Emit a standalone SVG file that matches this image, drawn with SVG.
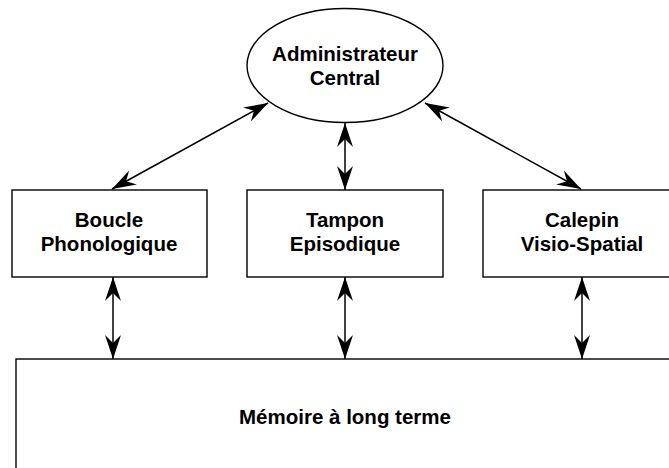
<svg xmlns="http://www.w3.org/2000/svg" width="669" height="468" viewBox="0 0 669 468">
  <style>
    .shape { fill: #ffffff; stroke: #000000; stroke-width: 1.4; }
    .label { font-family: "Liberation Sans", Arial, Helvetica, sans-serif; font-weight: bold; font-size: 20.5px; fill: #000000; text-anchor: middle; }
    .conn { fill: none; stroke: #000000; stroke-width: 1.5; marker-start: url(#arr); marker-end: url(#arr); }
  </style>
  <defs>
    <marker id="arr" viewBox="-25 -9 27 18" refX="0" refY="0" markerWidth="27" markerHeight="18" markerUnits="userSpaceOnUse" orient="auto-start-reverse">
      <path d="M0,0 L-24,-8 L-16,0 L-24,8 Z" fill="#000000"/>
    </marker>
  </defs>
  <rect width="669" height="468" fill="#ffffff"/>

  <g id="memoire-long-terme">
    <rect class="shape" x="16" y="359" width="670" height="130"/>
    <text class="label" x="345" y="424">Mémoire à long terme</text>
  </g>

  <g id="administrateur-central">
    <ellipse class="shape" cx="345" cy="65.5" rx="98" ry="57"/>
    <text class="label" x="345" y="61">Administrateur</text>
    <text class="label" x="345" y="85">Central</text>
  </g>

  <g id="boucle-phonologique">
    <rect class="shape" x="12" y="190" width="195" height="87"/>
    <text class="label" x="109" y="227">Boucle</text>
    <text class="label" x="109" y="251">Phonologique</text>
  </g>

  <g id="tampon-episodique">
    <rect class="shape" x="247" y="190" width="196" height="87"/>
    <text class="label" x="345" y="227">Tampon</text>
    <text class="label" x="345" y="251">Episodique</text>
  </g>

  <g id="calepin-visio-spatial">
    <rect class="shape" x="483" y="190" width="200" height="87"/>
    <text class="label" x="582" y="227">Calepin</text>
    <text class="label" x="582" y="251">Visio-Spatial</text>
  </g>

  <g id="connectors">
    <line class="conn" x1="112" y1="189" x2="268" y2="103"/>
    <line class="conn" x1="345" y1="123" x2="345" y2="190"/>
    <line class="conn" x1="425" y1="103" x2="581" y2="189"/>
    <line class="conn" x1="113" y1="277" x2="113" y2="359"/>
    <line class="conn" x1="345" y1="277" x2="345" y2="359"/>
    <line class="conn" x1="582" y1="277" x2="582" y2="359"/>
  </g>
</svg>
